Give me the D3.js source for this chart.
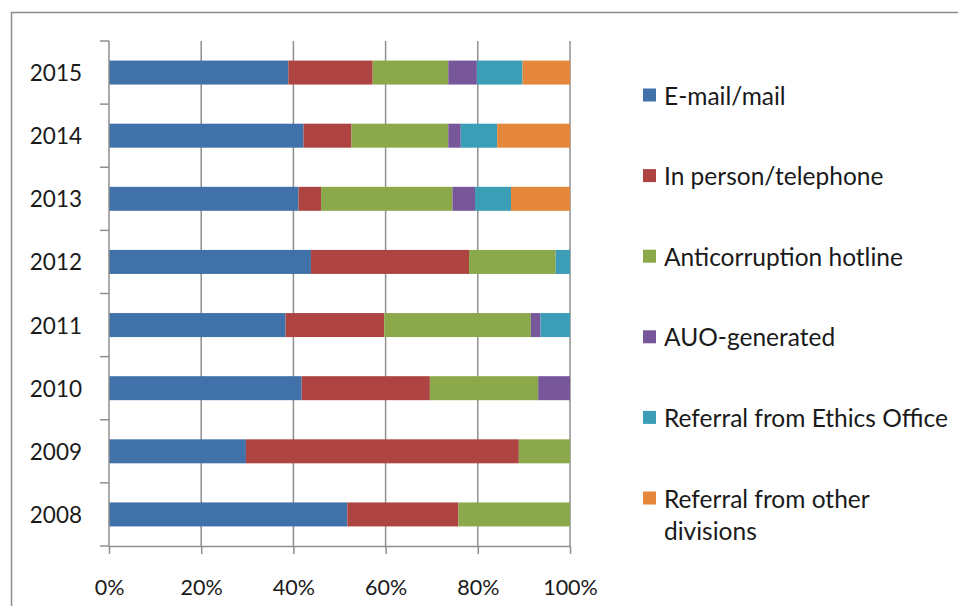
<!DOCTYPE html>
<html>
<head>
<meta charset="utf-8">
<script src="https://cdn.jsdelivr.net/npm/d3@7"></script>
<style>
  html, body { margin: 0; padding: 0; background: #ffffff; }
  svg { display: block; }
  text { font-family: Lato, "Open Sans", sans-serif; fill: #1a1a1a; }
</style>
</head>
<body>
<svg id="chart" width="958" height="606"></svg>
<script>
// Years, listed oldest first
const years = ["2008", "2009", "2010", "2011", "2012", "2013", "2014", "2015"];

// Share of allegations (%) by reporting origin, one value per year
const emailMail     = [51.7, 29.7, 41.8, 38.3, 43.8, 41.1, 42.2, 38.9];
const inPersonPhone = [24.1, 59.2, 27.8, 21.4, 34.3,  4.9, 10.4, 18.3];
const hotline       = [24.2, 11.1, 23.5, 31.8, 18.8, 28.5, 21.0, 16.4];
const auoGenerated  = [ 0.0,  0.0,  6.9,  2.1,  0.0,  4.9,  2.7,  6.2];
const ethicsOffice  = [ 0.0,  0.0,  0.0,  6.4,  3.1,  7.8,  7.9,  9.9];
const otherDivs     = [ 0.0,  0.0,  0.0,  0.0,  0.0, 12.8, 15.8, 10.3];

const seriesNames = [
  "E-mail/mail",
  "In person/telephone",
  "Anticorruption hotline",
  "AUO-generated",
  "Referral from Ethics Office",
  "Referral from other divisions"
];
const seriesValues = [emailMail, inPersonPhone, hotline, auoGenerated, ethicsOffice, otherDivs];
const seriesColors = ["#4171a9", "#ae4441", "#8ba84b", "#77569a", "#3b9db6", "#e5873b"];

const xTicks = [0, 0.2, 0.4, 0.6, 0.8, 1.0];

// Row table for d3.stack
const rows = years.map((y, i) => {
  const r = { year: y };
  seriesNames.forEach((s, k) => { r[s] = seriesValues[k][i]; });
  return r;
});

const svg = d3.select("#chart");

// Outer chart frame
svg.append("path")
  .attr("d", "M11.5,620 V12.5 H970")
  .attr("fill", "none")
  .attr("stroke", "#8c8c8c")
  .attr("stroke-width", 1.5);

const plot = { left: 109, right: 570, top: 41, bottom: 546 };

const x = d3.scaleLinear().domain([0, 1]).range([plot.left, plot.right]);
const y = d3.scaleBand()
  .domain(years.slice().reverse())
  .range([plot.top, plot.bottom])
  .paddingInner(0.62)
  .paddingOuter(0.31);

const stack = d3.stack().keys(seriesNames).offset(d3.stackOffsetExpand);
const stacked = stack(rows);

const gridColor = "#8f8f8f";

// Vertical gridlines
svg.append("g")
  .selectAll("line")
  .data(xTicks.slice(1))
  .join("line")
  .attr("x1", d => x(d)).attr("x2", d => x(d))
  .attr("y1", plot.top).attr("y2", plot.bottom)
  .attr("stroke", gridColor)
  .attr("stroke-width", 1.5);

// Bars
svg.append("g")
  .selectAll("g")
  .data(stacked)
  .join("g")
  .attr("fill", (d, i) => seriesColors[i])
  .selectAll("rect")
  .data(d => d)
  .join("rect")
  .attr("x", d => x(d[0]))
  .attr("width", d => Math.max(0, x(d[1]) - x(d[0])))
  .attr("y", d => y(d.data.year))
  .attr("height", y.bandwidth());

// X axis
const xAxis = d3.axisBottom(x)
  .tickValues(xTicks)
  .tickFormat(d3.format(".0%"))
  .tickSize(8)
  .tickSizeOuter(0)
  .tickPadding(26);
const gx = svg.append("g")
  .attr("transform", `translate(0,${plot.bottom})`)
  .call(xAxis);
gx.select(".domain").attr("stroke", gridColor).attr("stroke-width", 1.5);
gx.selectAll(".tick line").attr("stroke", gridColor).attr("stroke-width", 1.5);
gx.selectAll(".tick text")
  .style("font-size", "21.5px")
  .style("font-family", "Lato, 'Open Sans', sans-serif")
  .attr("fill", "#1a1a1a");

// Y axis: category labels and tick marks at band boundaries
const boundaries = d3.range(years.length + 1).map(i => plot.top + i * (plot.bottom - plot.top) / years.length);
svg.append("line")
  .attr("x1", plot.left).attr("x2", plot.left)
  .attr("y1", plot.top).attr("y2", plot.bottom)
  .attr("stroke", gridColor).attr("stroke-width", 1.5);
svg.append("g")
  .selectAll("line")
  .data(boundaries)
  .join("line")
  .attr("x1", plot.left - 9).attr("x2", plot.left)
  .attr("y1", d => d).attr("y2", d => d)
  .attr("stroke", gridColor).attr("stroke-width", 1.5);

svg.append("g")
  .selectAll("text")
  .data(years)
  .join("text")
  .attr("x", 82)
  .attr("y", d => y(d) + y.bandwidth() / 2)
  .attr("text-anchor", "end")
  .attr("dominant-baseline", "central")
  .style("font-size", "22.5px")
  .text(d => d);

// Legend
const legendTop = 95;
const legendGap = 80.6;
const legend = svg.append("g");
seriesNames.forEach((name, i) => {
  const cy = legendTop + i * legendGap;
  legend.append("rect")
    .attr("x", 643).attr("y", cy - 6.5)
    .attr("width", 13).attr("height", 13)
    .attr("fill", seriesColors[i]);
  const t = legend.append("text")
    .attr("x", 664)
    .attr("y", cy)
    .attr("dominant-baseline", "central")
    .style("font-size", "24.5px");
  if (name === "Referral from other divisions") {
    t.append("tspan").attr("x", 664).text("Referral from other");
    t.append("tspan").attr("x", 664).attr("dy", 32).text("divisions");
  } else {
    t.text(name);
  }
});
</script>
</body>
</html>
